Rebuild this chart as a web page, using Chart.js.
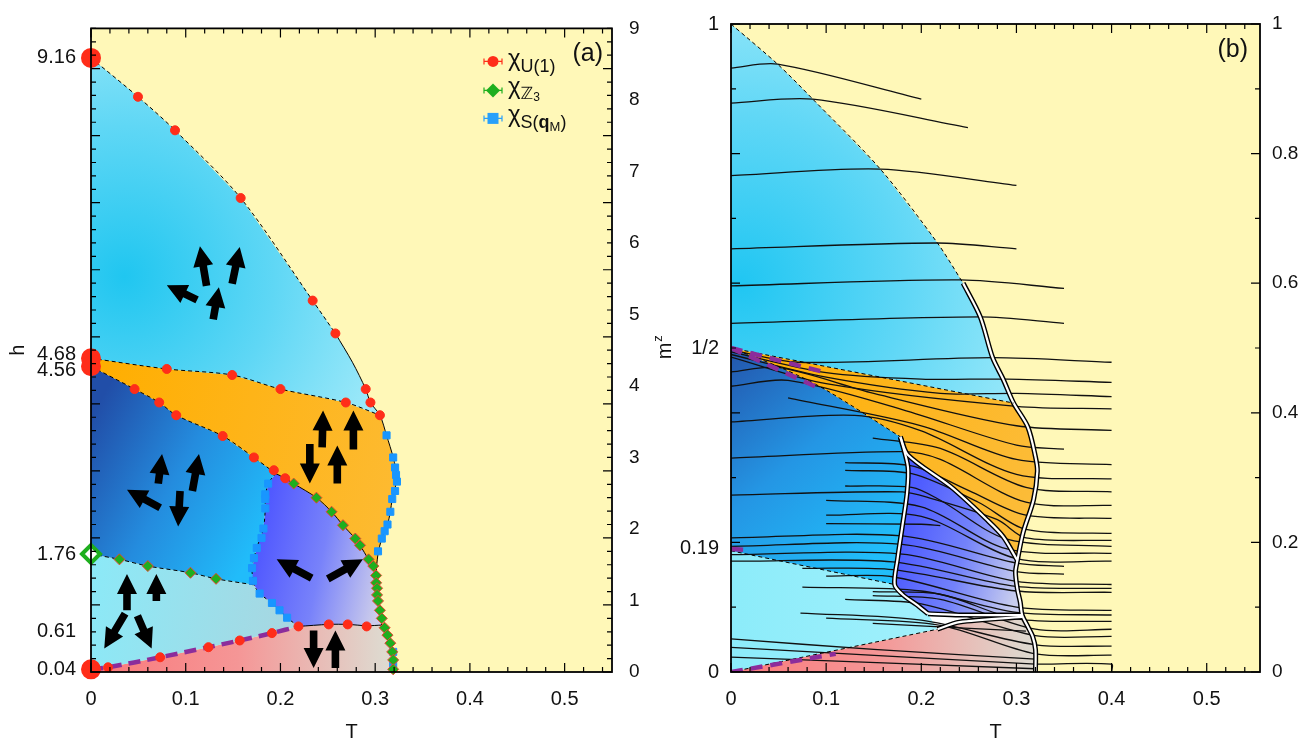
<!DOCTYPE html>
<html>
<head>
<meta charset="utf-8">
<script src="https://cdn.jsdelivr.net/npm/chart.js@4.4.0/dist/chart.umd.min.js"></script>
<style>
html, body { margin: 0; padding: 0; background: #fff; }
#wrapA { position: absolute; left: 0; top: 0; width: 653px; height: 742px; }
#wrapB { position: absolute; left: 653px; top: 0; width: 653px; height: 742px; }
</style>
</head>
<body>
<div id="wrapA"><canvas id="chartA" width="653" height="742"></canvas></div>
<div id="wrapB"><canvas id="chartB" width="653" height="742"></canvas></div>
<script>
var FONT = "'Liberation Sans', Arial, 'DejaVu Sans', sans-serif";

// ---------- axis ticks ----------
var tTicks = [0, 0.1, 0.2, 0.3, 0.4, 0.5];
var hTicks = [0.04, 0.61, 1.76, 4.56, 4.68, 9.16];
var hRightTicks = [0, 1, 2, 3, 4, 5, 6, 7, 8, 9];
var mTicks = [0, 0.19, 0.5, 1];
var mTickLabels = ['0', '0.19', '1/2', '1'];
var mRightTicks = [0, 0.2, 0.4, 0.6, 0.8, 1];

// ---------- panel (a): boundaries in (T, h) ----------
var aTopEdge = [[0, 9.16], [0.0496, 8.58], [0.0887, 8.08], [0.158, 7.07], [0.234, 5.54], [0.258, 5.05]];
var aUpperRight = [[0.258, 5.05], [0.276, 4.62], [0.29, 4.22], [0.295, 4.02], [0.305, 3.83]];
var aOrangeTop = [[0, 4.68], [0.08, 4.52], [0.149, 4.43], [0.2, 4.22], [0.269, 4.02], [0.305, 3.83]];
var aOrangeRight = [[0.305, 3.83], [0.312, 3.53], [0.319, 3.2], [0.323, 2.9], [0.318, 2.58], [0.316, 2.39],
                    [0.313, 2.2], [0.307, 1.99], [0.303, 1.76], [0.301, 1.44]];
var aLowRightA = [[0.301, 1.44], [0.303, 1.21], [0.305, 0.92], [0.307, 0.7]];
var aLowRightB = [[0.307, 0.7], [0.312, 0.6], [0.316, 0.43], [0.319, 0.18], [0.319, 0]];
var aOrangeLow = [[0, 4.56], [0.046, 4.22], [0.072, 4.02], [0.09, 3.83], [0.139, 3.52], [0.172, 3.2], [0.195, 2.96]];
var aOrangeLow2 = [[0.195, 2.96], [0.205, 2.89], [0.214, 2.81], [0.238, 2.6], [0.254, 2.39], [0.266, 2.19],
                   [0.279, 1.99], [0.284, 1.89], [0.293, 1.68], [0.298, 1.58], [0.301, 1.44]];
var aPurpleLeftA = [[0.195, 2.96], [0.187, 2.81], [0.184, 2.58], [0.184, 2.44], [0.182, 2.14], [0.175, 1.85],
                    [0.17, 1.55], [0.171, 1.38], [0.172, 1.3]];
var aPurpleLeftB = [[0.172, 1.3], [0.178, 1.17], [0.191, 1.03], [0.207, 0.81], [0.219, 0.68]];
var aPurpleBottom = [[0.219, 0.68], [0.251, 0.71], [0.271, 0.71], [0.291, 0.69], [0.307, 0.7]];
var aDarkLow = [[0, 1.76], [0.03, 1.68], [0.06, 1.58], [0.105, 1.48], [0.132, 1.39], [0.172, 1.3]];
var aPinkTop = [[0, 0.04], [0.018, 0.07], [0.073, 0.22], [0.124, 0.37], [0.157, 0.47], [0.191, 0.58], [0.219, 0.68]];

// susceptibility peaks
var chiU1 = [[0.0496, 8.58], [0.0887, 8.08], [0.158, 7.07], [0.234, 5.54], [0.258, 5.05], [0.29, 4.22], [0.295, 4.02], [0.305, 3.83],
             [0.08, 4.52], [0.149, 4.43], [0.2, 4.22], [0.269, 4.02],
             [0.046, 4.22], [0.072, 4.02], [0.09, 3.83], [0.139, 3.52], [0.172, 3.2], [0.193, 3.01], [0.205, 2.89],
             [0.018, 0.07], [0.073, 0.22], [0.124, 0.37], [0.157, 0.47], [0.191, 0.58], [0.219, 0.68], [0.251, 0.71],
             [0.271, 0.71], [0.291, 0.68]];
var chiZ3 = [[0.03, 1.68], [0.06, 1.58], [0.105, 1.48], [0.132, 1.39],
             [0.214, 2.81], [0.238, 2.6], [0.254, 2.39], [0.266, 2.19], [0.279, 1.99], [0.284, 1.89], [0.293, 1.68],
             [0.298, 1.58], [0.301, 1.44], [0.301, 1.33], [0.302, 1.25], [0.302, 1.15], [0.303, 1.06], [0.305, 0.92],
             [0.307, 0.8], [0.31, 0.66], [0.313, 0.55], [0.316, 0.43], [0.318, 0.3], [0.319, 0.18], [0.319, 0.04]];
var chiSq = [[0.312, 3.53], [0.319, 3.2], [0.321, 3.05], [0.322, 2.94], [0.323, 2.84], [0.321, 2.7], [0.318, 2.58],
             [0.316, 2.39], [0.313, 2.2], [0.31, 2.1], [0.307, 1.99], [0.303, 1.8], [0.319, 0.3], [0.319, 0.12],
             [0.187, 2.81], [0.184, 2.65], [0.184, 2.58], [0.184, 2.44], [0.182, 2.14], [0.18, 2.0], [0.175, 1.85],
             [0.172, 1.7], [0.17, 1.55], [0.171, 1.36], [0.178, 1.17], [0.191, 1.03], [0.199, 0.92], [0.207, 0.81]];
var zeroTU1 = [[0, 9.16], [0, 4.68], [0, 4.56], [0, 0.04]];
var zeroTZ3 = [[0, 1.76]];

// spin pictograms: tail (T, h) -> tip (T, h)
var spinArrows = [
  [0.122, 5.76, 0.115, 6.35], [0.149, 5.79, 0.157, 6.34], [0.112, 5.55, 0.080, 5.77], [0.129, 5.26, 0.135, 5.74],
  [0.071, 2.81, 0.075, 3.25], [0.107, 2.70, 0.114, 3.25], [0.073, 2.45, 0.038, 2.72], [0.094, 2.70, 0.092, 2.17],
  [0.244, 3.35, 0.245, 3.90], [0.277, 3.32, 0.277, 3.90], [0.231, 3.40, 0.231, 2.81], [0.260, 2.81, 0.260, 3.38],
  [0.233, 1.40, 0.196, 1.68], [0.250, 1.39, 0.287, 1.68],
  [0.038, 0.92, 0.038, 1.46], [0.069, 1.06, 0.069, 1.46], [0.036, 0.87, 0.014, 0.35], [0.049, 0.84, 0.064, 0.35],
  [0.235, 0.62, 0.235, 0.06], [0.258, 0.06, 0.258, 0.62]
];

// ---------- panel (b): boundaries in (T, m^z) ----------
var bTopEdge = [[0, 1], [0.049, 0.938], [0.086, 0.884], [0.157, 0.776], [0.217, 0.662], [0.244, 0.6]];
var bUpperRight = [[0.244, 0.6], [0.262, 0.548], [0.275, 0.485], [0.286, 0.452], [0.297, 0.415]];
var bOrangeTop = [[0, 0.5], [0.297, 0.415]];
var bOrangeRight = [[0.297, 0.415], [0.312, 0.378], [0.32, 0.332], [0.322, 0.31], [0.318, 0.266], [0.307, 0.215], [0.301, 0.172]];
var bLowRightA = [[0.301, 0.172], [0.299, 0.154], [0.301, 0.128], [0.304, 0.108], [0.306, 0.088]];
var bLowRightB = [[0.306, 0.088], [0.312, 0.07], [0.317, 0.055], [0.32, 0.035], [0.32, 0]];
var bOrangeLow = [[0, 0.5], [0.055, 0.468], [0.1, 0.435], [0.178, 0.363]];
var bPurpleTop = [[0.178, 0.363], [0.186, 0.335], [0.231, 0.286], [0.269, 0.235], [0.286, 0.209], [0.301, 0.172]];
var bPurpleLeft = [[0.178, 0.363], [0.186, 0.316], [0.185, 0.276], [0.18, 0.224], [0.175, 0.174], [0.172, 0.135]];
var bPurpleLeft2 = [[0.172, 0.135], [0.18, 0.12], [0.195, 0.104], [0.207, 0.09]];
var bPurpleBottom = [[0.207, 0.09], [0.24, 0.088], [0.306, 0.088]];
var bDarkLow = [[0, 0.187], [0.172, 0.135]];
var bPinkTopDash = [[0, 0], [0.217, 0.066]];
var bPinkTopSolid = [[0.217, 0.066], [0.24, 0.077], [0.306, 0.085]];
var bBaseBox = [[0.32, 0.012], [0.4, 0.012], [0.4, 0]];

// m^z(T) curves at fixed h
var bCurves = [
  [[0, 0.932], [0.049, 0.938], [0.2, 0.884]],
  [[0, 0.878], [0.086, 0.884], [0.249, 0.84]],
  [[0, 0.766], [0.157, 0.776], [0.3, 0.751]],
  [[0, 0.653], [0.217, 0.662], [0.3, 0.653]],
  [[0, 0.596], [0.241, 0.605], [0.35, 0.592]],
  [[0, 0.538], [0.262, 0.548], [0.35, 0.538]],
  [[0, 0.497], [0.07, 0.478], [0.275, 0.485], [0.4, 0.478]],
  [[0, 0.494], [0.1, 0.462], [0.2, 0.452], [0.29, 0.452], [0.4, 0.447]],
  [[0, 0.49], [0.1, 0.455], [0.22, 0.43], [0.3, 0.43], [0.4, 0.425]],
  [[0, 0.486], [0.1, 0.445], [0.3, 0.41], [0.4, 0.406]],
  [[0, 0.463], [0.05, 0.47], [0.15, 0.43], [0.3, 0.38], [0.4, 0.373]],
  [[0, 0.441], [0.06, 0.45], [0.18, 0.405], [0.3, 0.35], [0.35, 0.344]],
  [[0.06, 0.423], [0.2, 0.38], [0.3, 0.328], [0.4, 0.32]],
  [[0, 0.386], [0.13, 0.396], [0.2, 0.372], [0.3, 0.305], [0.4, 0.298]],
  [[0.149, 0.361], [0.22, 0.345], [0.31, 0.285], [0.4, 0.278]],
  [[0, 0.33], [0.18, 0.34], [0.22, 0.328], [0.31, 0.262], [0.4, 0.257]],
  [[0.12, 0.323], [0.19, 0.318], [0.25, 0.28], [0.31, 0.242], [0.4, 0.237]],
  [[0.12, 0.311], [0.19, 0.306], [0.26, 0.262], [0.31, 0.22], [0.4, 0.214]],
  [[0, 0.273], [0.18, 0.278], [0.21, 0.268], [0.28, 0.235], [0.31, 0.207], [0.4, 0.203]],
  [[0.12, 0.287], [0.19, 0.285], [0.22, 0.265], [0.29, 0.205], [0.4, 0.194]],
  [[0.1, 0.265], [0.2, 0.255], [0.29, 0.19], [0.4, 0.183]],
  [[0.1, 0.242], [0.2, 0.24], [0.3, 0.175], [0.4, 0.171]],
  [[0.1, 0.229], [0.2, 0.228], [0.22, 0.226]],
  [[0, 0.207], [0.18, 0.21], [0.3, 0.168], [0.35, 0.163]],
  [[0, 0.194], [0.18, 0.197], [0.3, 0.155], [0.35, 0.151]],
  [[0, 0.181], [0.18, 0.182], [0.3, 0.14], [0.4, 0.135]],
  [[0, 0.171], [0.17, 0.17], [0.3, 0.132], [0.4, 0.129]],
  [[0.075, 0.16], [0.17, 0.158], [0.3, 0.125], [0.4, 0.123]],
  [[0.1, 0.148], [0.17, 0.147], [0.3, 0.1], [0.4, 0.095]],
  [[0.075, 0.131], [0.2, 0.125], [0.3, 0.092], [0.4, 0.088]],
  [[0.149, 0.124], [0.22, 0.12], [0.3, 0.082], [0.4, 0.078]],
  [[0.149, 0.118], [0.22, 0.112], [0.32, 0.066], [0.4, 0.066]],
  [[0.12, 0.112], [0.2, 0.105], [0.32, 0.056], [0.4, 0.055]],
  [[0.073, 0.091], [0.2, 0.08], [0.32, 0.042], [0.4, 0.04]],
  [[0.1, 0.083], [0.22, 0.072], [0.32, 0.028], [0.4, 0.026]],
  [[0.149, 0.075], [0.31, 0.063]],
  [[0, 0.051], [0.15, 0.035], [0.32, 0.02]],
  [[0, 0.038], [0.32, 0.012]],
  [[0, 0.023], [0.32, 0.005]]
];
var bPurpleDash = [
  [[0, 0.5], [0.1, 0.462]],
  [[0, 0.5], [0.094, 0.437]],
  [[0, 0.19], [0.02, 0.188]],
  [[0, 0], [0.11, 0.028]]
];

// ---------- helpers ----------
var YELLOW = 'rgb(255,248,184)';
var PURPLE_DASH = 'rgb(140,45,155)';

function toXY(arr) { return arr.map(function (p) { return { x: p[0], y: p[1] }; }); }
function rev(arr) { return arr.slice().reverse(); }
function join() { var out = []; for (var i = 0; i < arguments.length; i++) out = out.concat(arguments[i]); return out; }

function linGrad(stops, t0, v0, t1, v1) {
  return function (c) {
    var ch = c.chart, x = ch.scales.x, y = ch.scales.y;
    if (!ch.chartArea || !x || !y) return stops[0];
    var g = ch.ctx.createLinearGradient(x.getPixelForValue(t0), y.getPixelForValue(v0), x.getPixelForValue(t1), y.getPixelForValue(v1));
    stops.forEach(function (s, i) { g.addColorStop(i / (stops.length - 1), s); });
    return g;
  };
}
function radGrad(stops, t0, v0, r) {
  return function (c) {
    var ch = c.chart, x = ch.scales.x, y = ch.scales.y;
    if (!ch.chartArea || !x || !y) return stops[0];
    var px = x.getPixelForValue(t0), py = y.getPixelForValue(v0);
    var g = ch.ctx.createRadialGradient(px, py, 0, px, py, r);
    stops.forEach(function (s, i) { g.addColorStop(i / (stops.length - 1), s); });
    return g;
  };
}

function areaSet(points, color, order) {
  return { data: toXY(points), fill: 'shape', backgroundColor: color, borderColor: 'rgba(0,0,0,0)', borderWidth: 0,
           pointRadius: 0, tension: 0, order: order || 90 };
}
function lineSet(points, width, color, dash, order) {
  return { data: toXY(points), fill: false, borderColor: color, borderWidth: width, borderDash: dash || [],
           pointRadius: 0, tension: 0.3, order: order || 40 };
}
function doubleLine(points, list) {
  list.push(lineSet(points, 5, '#000', [], 30));
  list.push(lineSet(points, 2.2, '#fff', [], 29));
}
function dotSet(points, style, radius, bg, border, bw, order) {
  return { data: toXY(points), showLine: false, pointStyle: style, pointRadius: radius, pointBackgroundColor: bg,
           pointBorderColor: border, pointBorderWidth: bw, order: order || 10, clip: false };
}

function framePlugin(xStep, xEvery, yId, yStep, yEvery) {
  return {
    id: 'frame',
    afterDatasetsDraw: function (chart) {
      var a = chart.chartArea, ctx = chart.ctx, xs = chart.scales.x, ys = chart.scales[yId];
      var i, p, len;
      ctx.save();
      ctx.strokeStyle = '#000';
      ctx.lineWidth = 1.2;
      ctx.beginPath();
      for (i = 0; xs.min + i * xStep <= xs.max + 1e-9; i++) {
        p = xs.getPixelForValue(xs.min + i * xStep);
        len = (i % xEvery === 0) ? 9 : 5;
        ctx.moveTo(p, a.bottom); ctx.lineTo(p, a.bottom - len);
        ctx.moveTo(p, a.top); ctx.lineTo(p, a.top + len);
      }
      for (i = 0; ys.min + i * yStep <= ys.max + 1e-9; i++) {
        p = ys.getPixelForValue(ys.min + i * yStep);
        len = (i % yEvery === 0) ? 9 : 5;
        ctx.moveTo(a.left, p); ctx.lineTo(a.left + len, p);
        ctx.moveTo(a.right, p); ctx.lineTo(a.right - len, p);
      }
      ctx.stroke();
      ctx.lineWidth = 1.8;
      ctx.strokeRect(a.left, a.top, a.right - a.left, a.bottom - a.top);
      ctx.restore();
    }
  };
}
var paperPlugin = {
  id: 'paper',
  beforeDatasetsDraw: function (chart) {
    var a = chart.chartArea, ctx = chart.ctx;
    ctx.save();
    ctx.fillStyle = YELLOW;
    ctx.fillRect(a.left, a.top, a.right - a.left, a.bottom - a.top);
    ctx.restore();
  }
};
var arrowPlugin = {
  id: 'spins',
  afterDatasetsDraw: function (chart) {
    var xs = chart.scales.x, ys = chart.scales.y, ctx = chart.ctx;
    ctx.save();
    ctx.fillStyle = '#000';
    spinArrows.forEach(function (s) {
      var x0 = xs.getPixelForValue(s[0]), y0 = ys.getPixelForValue(s[1]);
      var x1 = xs.getPixelForValue(s[2]), y1 = ys.getPixelForValue(s[3]);
      var L = Math.hypot(x1 - x0, y1 - y0), ang = Math.atan2(y1 - y0, x1 - x0);
      var head = 20, hw = 10, sw = 3.8;
      ctx.save();
      ctx.translate(x0, y0);
      ctx.rotate(ang);
      ctx.beginPath();
      ctx.moveTo(0, -sw); ctx.lineTo(L - head, -sw); ctx.lineTo(L - head, -hw); ctx.lineTo(L, 0);
      ctx.lineTo(L - head, hw); ctx.lineTo(L - head, sw); ctx.lineTo(0, sw);
      ctx.closePath();
      ctx.fill();
      ctx.restore();
    });
    ctx.restore();
  }
};

function drawRuns(ctx, x, y, runs) {
  runs.forEach(function (r) {
    ctx.font = r[1];
    ctx.fillText(r[0], x, y + r[2]);
    x += ctx.measureText(r[0]).width;
  });
}
var legendPluginA = {
  id: 'keyA',
  afterDraw: function (chart) {
    var ctx = chart.ctx, a = chart.chartArea;
    var mx = a.right - 119, rows = [a.top + 33, a.top + 62, a.top + 90];
    var colors = ['rgb(255,45,25)', 'rgb(30,175,30)', 'rgb(40,160,250)'];
    ctx.save();
    rows.forEach(function (y, i) {
      ctx.strokeStyle = colors[i];
      ctx.lineWidth = 1.2;
      ctx.beginPath();
      ctx.moveTo(mx - 9, y); ctx.lineTo(mx + 9, y);
      ctx.moveTo(mx - 9, y - 3); ctx.lineTo(mx - 9, y + 3);
      ctx.moveTo(mx + 9, y - 3); ctx.lineTo(mx + 9, y + 3);
      ctx.stroke();
      ctx.fillStyle = colors[i];
      ctx.beginPath();
      if (i === 0) ctx.arc(mx, y, 5.5, 0, Math.PI * 2);
      if (i === 1) { ctx.moveTo(mx, y - 7); ctx.lineTo(mx + 7, y); ctx.lineTo(mx, y + 7); ctx.lineTo(mx - 7, y); ctx.closePath(); }
      if (i === 2) ctx.rect(mx - 5.5, y - 5.5, 11, 11);
      ctx.fill();
    });
    ctx.fillStyle = '#111';
    ctx.textBaseline = 'alphabetic';
    var tx = mx + 15;
    drawRuns(ctx, tx, rows[0] + 5, [['χ', '24px ' + FONT, 0], ['U(1)', '18px ' + FONT, 6]]);
    drawRuns(ctx, tx, rows[1] + 4, [['χ', '24px ' + FONT, 0], ['ℤ', "17px 'DejaVu Sans'", 5], ['3', '12px ' + FONT, 7]]);
    drawRuns(ctx, tx, rows[2] + 4, [['χ', '24px ' + FONT, 0], ['S(', '18px ' + FONT, 6], ['q', 'bold 18px ' + FONT, 6],
                                    ['M', '13px ' + FONT, 9], [')', '18px ' + FONT, 6]]);
    ctx.font = '25px ' + FONT;
    ctx.textAlign = 'right';
    ctx.fillText('(a)', a.right - 9, a.top + 33);
    ctx.restore();
  }
};
var labelPluginB = {
  id: 'keyB',
  afterDraw: function (chart) {
    var ctx = chart.ctx, a = chart.chartArea;
    ctx.save();
    ctx.fillStyle = '#111';
    ctx.font = '25px ' + FONT;
    ctx.textAlign = 'right';
    ctx.fillText('(b)', a.right - 12, a.top + 33);
    ctx.translate(18, (a.top + a.bottom) / 2);
    ctx.rotate(-Math.PI / 2);
    ctx.textAlign = 'left';
    ctx.font = '20px ' + FONT;
    var w = ctx.measureText('m').width;
    ctx.fillText('m', -w / 2 - 3, 0);
    ctx.font = '13px ' + FONT;
    ctx.fillText('z', w / 2 - 2, -9);
    ctx.restore();
  }
};

function xAxis(maxT) {
  return {
    type: 'linear', position: 'bottom', min: 0, max: maxT,
    afterFit: function (s) { s.height = 70; },
    afterBuildTicks: function (s) { s.ticks = tTicks.map(function (v) { return { value: v }; }); },
    ticks: { color: '#111', font: { size: 20, family: FONT }, padding: 15, autoSkip: false, maxRotation: 0,
             callback: function (v) { return String(v); } },
    grid: { display: false, drawTicks: false }, border: { display: false },
    title: { display: true, text: 'T', color: '#111', font: { size: 20, family: FONT }, padding: { top: 0, bottom: -2 } }
  };
}

// ---------- datasets (a) ----------
var dsA = [];
dsA.push(areaSet(join(aTopEdge, aUpperRight, rev(aOrangeTop)),
  radGrad(['rgb(32,198,240)', 'rgb(95,215,245)', 'rgb(168,236,250)'], 0.035, 5.9, 300)));
dsA.push(areaSet(join(aOrangeTop, aOrangeRight, rev(aOrangeLow2), rev(aOrangeLow)),
  linGrad(['rgb(255,174,0)', 'rgb(253,186,48)'], 0, 4, 0.32, 3)));
dsA.push(areaSet(join(aOrangeLow, aPurpleLeftA, rev(aDarkLow)),
  linGrad(['rgb(33,78,168)', 'rgb(36,140,222)', 'rgb(33,188,250)'], 0, 3.8, 0.19, 2.3)));
dsA.push(areaSet(join(aOrangeLow2, aLowRightA, rev(aPurpleBottom), rev(aPurpleLeftB), rev(aPurpleLeftA)),
  linGrad(['rgb(80,88,255)', 'rgb(120,130,250)', 'rgb(205,205,235)'], 0.17, 1.5, 0.305, 1.1)));
dsA.push(areaSet(join(aDarkLow, aPurpleLeftB, rev(aPinkTop)),
  linGrad(['rgb(140,233,247)', 'rgb(168,214,224)'], 0, 1.2, 0.22, 0.8)));
dsA.push(areaSet(join(aPinkTop, aPurpleBottom, aLowRightB, [[0, 0]]),
  linGrad(['rgb(250,120,122)', 'rgb(245,150,150)', 'rgb(222,218,208)'], 0, 0.3, 0.31, 0.3)));

dsA.push(lineSet(aTopEdge, 1, '#000', [4, 3]));
dsA.push(lineSet(join(aUpperRight, aOrangeRight.slice(1), aLowRightA.slice(1), aLowRightB.slice(1)), 1, '#000'));
dsA.push(lineSet(aOrangeTop, 1, '#000', [4, 3]));
dsA.push(lineSet(aOrangeLow, 1, '#000', [4, 3]));
dsA.push(lineSet(aOrangeLow2, 1, '#000'));
dsA.push(lineSet(aDarkLow, 1, '#000', [4, 3]));
dsA.push(lineSet(join(aPurpleLeftA, aPurpleLeftB.slice(1)), 1, '#000', [3, 3]));
dsA.push(lineSet(aPurpleBottom, 1, '#000'));
dsA.push(lineSet(aPinkTop, 4.5, PURPLE_DASH, [12, 7], 20));

dsA.push(dotSet(chiSq, 'rect', 5, 'rgb(25,150,255)', 'rgb(25,150,255)', 1, 12));
dsA.push(dotSet(chiZ3, 'rectRot', 5.5, 'rgb(30,175,30)', 'rgb(230,70,50)', 1, 11));
dsA.push(dotSet(chiU1, 'circle', 4.5, 'rgb(255,45,25)', 'rgb(255,45,25)', 1, 10));
dsA.push(dotSet(zeroTU1, 'circle', 9, 'rgb(255,45,25)', 'rgb(255,45,25)', 2, 5));
dsA.push(dotSet(zeroTZ3, 'rectRot', 9, '#ffffff', 'rgb(30,175,30)', 4, 5));

new Chart(document.getElementById('chartA'), {
  type: 'line',
  data: { datasets: dsA },
  options: {
    responsive: false, animation: false, events: [],
    layout: { padding: { top: 22, left: 0, right: 0, bottom: 0 } },
    plugins: { legend: { display: false }, tooltip: { enabled: false } },
    scales: {
      x: xAxis(0.55),
      y: {
        type: 'linear', position: 'left', min: 0, max: 9.6,
        afterFit: function (s) { s.width = 91; },
        afterBuildTicks: function (s) {
          // spread labels that sit too close to read
          var gap = (s.max - s.min) * 16 / 650, vals = hTicks.slice();
          for (var i = 1; i < vals.length; i++) {
            if (vals[i] - vals[i - 1] < gap) {
              var mid = (vals[i] + vals[i - 1]) / 2;
              vals[i - 1] = mid - gap / 2; vals[i] = mid + gap / 2;
            }
          }
          s.ticks = vals.map(function (v) { return { value: v }; });
        },
        ticks: { color: '#111', font: { size: 20, family: FONT }, padding: 15, autoSkip: false,
                 callback: function (v, i) { return hTicks[i].toFixed(2); } },
        grid: { display: false, drawTicks: false }, border: { display: false },
        title: { display: true, text: 'h', color: '#111', font: { size: 20, family: FONT }, padding: { top: 6 } }
      },
      y2: {
        type: 'linear', position: 'right', min: 0, max: 9,
        afterFit: function (s) { s.width = 41; },
        afterBuildTicks: function (s) { s.ticks = hRightTicks.map(function (v) { return { value: v }; }); },
        ticks: { color: '#111', font: { size: 19, family: FONT }, padding: 17, autoSkip: false },
        grid: { display: false, drawTicks: false }, border: { display: false }
      }
    }
  },
  plugins: [paperPlugin, framePlugin(0.02, 5, 'y', 0.2, 5), arrowPlugin, legendPluginA]
});

// ---------- datasets (b) ----------
var dsB = [];
dsB.push(areaSet(join(bTopEdge, bUpperRight, rev(bOrangeTop)),
  radGrad(['rgb(32,198,242)', 'rgb(95,215,246)', 'rgb(165,236,250)'], 0.01, 0.6, 330)));
dsB.push(areaSet(join(bOrangeTop, bOrangeRight, rev(bPurpleTop), rev(bOrangeLow)),
  linGrad(['rgb(255,174,0)', 'rgb(252,188,56)'], 0, 0.45, 0.32, 0.3)));
dsB.push(areaSet(join(bOrangeLow, bPurpleLeft, rev(bDarkLow)),
  linGrad(['rgb(35,85,172)', 'rgb(36,150,228)', 'rgb(33,190,250)'], 0, 0.5, 0.17, 0.2)));
dsB.push(areaSet(join(bPurpleTop, bLowRightA, rev(bPurpleBottom), rev(bPurpleLeft2), rev(bPurpleLeft)),
  linGrad(['rgb(78,92,255)', 'rgb(115,130,250)', 'rgb(200,205,238)'], 0.18, 0.2, 0.305, 0.15)));
dsB.push(areaSet(join(bDarkLow, bPurpleLeft2, rev(bPinkTopDash)),
  linGrad(['rgb(140,236,250)', 'rgb(160,240,252)'], 0, 0.1, 0.2, 0.1)));
dsB.push(areaSet(join(bPinkTopDash, bPinkTopSolid, bLowRightB, [[0, 0]]),
  linGrad(['rgb(250,122,124)', 'rgb(245,150,150)', 'rgb(222,216,206)'], 0, 0.03, 0.31, 0.03)));
dsB.push(areaSet(join(bPinkTopSolid, rev(bPurpleBottom)), '#ffffff', 85));

bCurves.forEach(function (c) { dsB.push(lineSet(c, 1.3, '#111', [], 35)); });
dsB.push(lineSet(bBaseBox, 1.3, '#111', [], 35));

dsB.push(lineSet(bTopEdge, 1, '#000', [4, 3], 25));
dsB.push(lineSet(bOrangeTop, 1, '#000', [4, 3], 25));
dsB.push(lineSet(bOrangeLow, 1, '#000', [4, 3], 25));
dsB.push(lineSet(bDarkLow, 1, '#000', [4, 3], 25));
dsB.push(lineSet(bPinkTopDash, 1, '#000', [4, 3], 25));
doubleLine(join(bUpperRight, bOrangeRight.slice(1), bLowRightA.slice(1), bLowRightB.slice(1)), dsB);
doubleLine(bPurpleTop, dsB);
doubleLine(join(bPurpleLeft, bPurpleLeft2.slice(1)), dsB);
doubleLine(bPurpleBottom, dsB);
doubleLine(bPinkTopSolid, dsB);
bPurpleDash.forEach(function (p) { dsB.push(lineSet(p, 4.5, PURPLE_DASH, [12, 8], 20)); });

new Chart(document.getElementById('chartB'), {
  type: 'line',
  data: { datasets: dsB },
  options: {
    responsive: false, animation: false, events: [],
    layout: { padding: { top: 22, left: 0, right: 0, bottom: 0 } },
    plugins: { legend: { display: false }, tooltip: { enabled: false } },
    scales: {
      x: xAxis(0.556),
      y: {
        type: 'linear', position: 'left', min: 0, max: 1,
        afterFit: function (s) { s.width = 78; },
        afterBuildTicks: function (s) { s.ticks = mTicks.map(function (v) { return { value: v }; }); },
        ticks: { color: '#111', font: { size: 20, family: FONT }, padding: 12, autoSkip: false,
                 callback: function (v, i) { return mTickLabels[i]; } },
        grid: { display: false, drawTicks: false }, border: { display: false }
      },
      y2: {
        type: 'linear', position: 'right', min: 0, max: 1,
        afterFit: function (s) { s.width = 46; },
        afterBuildTicks: function (s) { s.ticks = mRightTicks.map(function (v) { return { value: v }; }); },
        ticks: { color: '#111', font: { size: 19, family: FONT }, padding: 12, autoSkip: false,
                 callback: function (v) { return String(Math.round(v * 10) / 10); } },
        grid: { display: false, drawTicks: false }, border: { display: false }
      }
    }
  },
  plugins: [paperPlugin, framePlugin(0.02, 5, 'y', 0.1, 2), labelPluginB]
});
</script>
</body>
</html>
